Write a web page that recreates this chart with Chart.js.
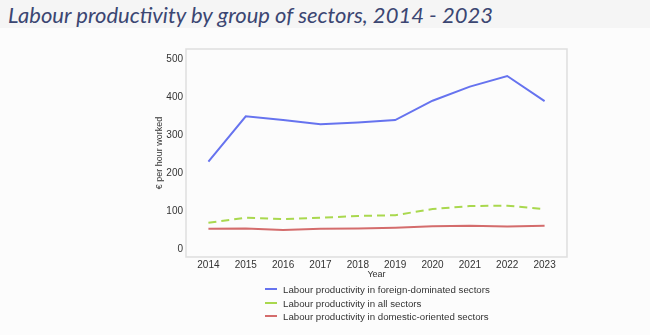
<!DOCTYPE html>
<html>
<head>
<meta charset="utf-8">
<script src="https://cdn.jsdelivr.net/npm/chart.js@4.4.1/dist/chart.umd.min.js"></script>
<style>
  html, body { margin: 0; padding: 0; background: #fcfcfc; }
  #wrap { position: relative; width: 650px; height: 335px; overflow: hidden; }
  #head {
    position: absolute; left: 0; top: 0; width: 650px; height: 28px;
    background: #f5f5f5;
  }
  #title {
    position: absolute; left: 8px; top: 1px;
    font: italic 22px Lato, "Open Sans", sans-serif;
    color: #3b4672; white-space: nowrap;
  }
  #chart { position: absolute; left: 0; top: 0; }
  #legend {
    position: absolute; left: 265px; top: 283px;
    font: 9.7px "Liberation Sans", Arial, sans-serif; color: #333;
  }
  .row { height: 13.5px; line-height: 13.5px; white-space: nowrap; }
  .swatch { display: inline-block; width: 12px; height: 2px; vertical-align: middle; margin-right: 6px; position: relative; top: -1px; }
</style>
</head>
<body>
<div id="wrap">
  <div id="head"></div>
  <div id="title">Labour productivity by group of sectors, 2014 - 2023</div>
  <canvas id="chart" width="650" height="335"></canvas>
  <div id="legend"></div>
</div>
<script>
var years = [2014, 2015, 2016, 2017, 2018, 2019, 2020, 2021, 2022, 2023];
var foreignDominated = [230, 349, 339, 328, 333, 339, 390, 427, 455, 389];
var allSectors = [69, 82, 79, 82, 87, 89, 105, 113, 114, 105];
var domesticOriented = [53, 54, 50, 53, 54, 56, 60, 61, 59, 61];
var yTicks = [0, 100, 200, 300, 400, 500];

// light grey frame around the plot area
var frame = {
  id: 'frame',
  afterDraw: function (chart) {
    var a = chart.chartArea, c = chart.ctx;
    c.save();
    c.strokeStyle = '#dedede';
    c.lineWidth = 1.5;
    c.strokeRect(a.left, a.top, a.right - a.left, a.bottom - a.top);
    c.restore();
  }
};

var tickFont = { family: '"Liberation Sans", Arial, sans-serif', size: 10 };
var titleFont = { family: '"Liberation Sans", Arial, sans-serif', size: 9 };

var ctx = document.getElementById('chart').getContext('2d');
var chart = new Chart(ctx, {
  type: 'line',
  data: {
    labels: years,
    datasets: [{
      label: 'Labour productivity in foreign-dominated sectors',
      data: foreignDominated,
      borderColor: '#6673ef',
      borderWidth: 2
    }, {
      label: 'Labour productivity in all sectors',
      data: allSectors,
      borderColor: '#a9d84e',
      borderWidth: 2,
      borderDash: [8, 5]
    }, {
      label: 'Labour productivity in domestic-oriented sectors',
      data: domesticOriented,
      borderColor: '#d46c6c',
      borderWidth: 2
    }]
  },
  options: {
    responsive: false,
    animation: false,
    elements: { point: { radius: 0 }, line: { tension: 0 } },
    layout: { padding: { left: 150, top: 49, right: 83, bottom: 50 } },
    plugins: {
      legend: { display: false },
      tooltip: { enabled: false }
    },
    scales: {
      x: {
        type: 'linear',
        min: 2013.4,
        max: 2023.6,
        grid: { display: false, drawTicks: false },
        border: { display: false },
        afterBuildTicks: function (s) { s.ticks = years.map(function (v) { return { value: v }; }); },
        afterFit: function (s) { s.height = 28; },
        ticks: {
          font: tickFont, color: '#333', padding: 2, maxRotation: 0, autoSkip: false,
          callback: function (v) { return String(v); }
        },
        title: { display: true, text: 'Year', font: titleFont, color: '#333', padding: { top: 0, bottom: 5 } }
      },
      y: {
        min: -21,
        max: 526,
        grid: { display: false, drawTicks: false },
        border: { display: false },
        afterBuildTicks: function (s) { s.ticks = yTicks.map(function (v) { return { value: v }; }); },
        afterFit: function (s) { s.width = 36; },
        ticks: { font: tickFont, color: '#333', padding: 3 },
        title: { display: true, text: '€ per hour worked', font: titleFont, color: '#333', padding: { top: 4, bottom: 0 } }
      }
    }
  },
  plugins: [frame]
});

// legend rows built from the datasets
var legend = document.getElementById('legend');
chart.data.datasets.forEach(function (ds) {
  var row = document.createElement('div');
  row.className = 'row';
  var sw = document.createElement('span');
  sw.className = 'swatch';
  sw.style.background = ds.borderColor;
  row.appendChild(sw);
  row.appendChild(document.createTextNode(ds.label));
  legend.appendChild(row);
});
</script>
</body>
</html>
